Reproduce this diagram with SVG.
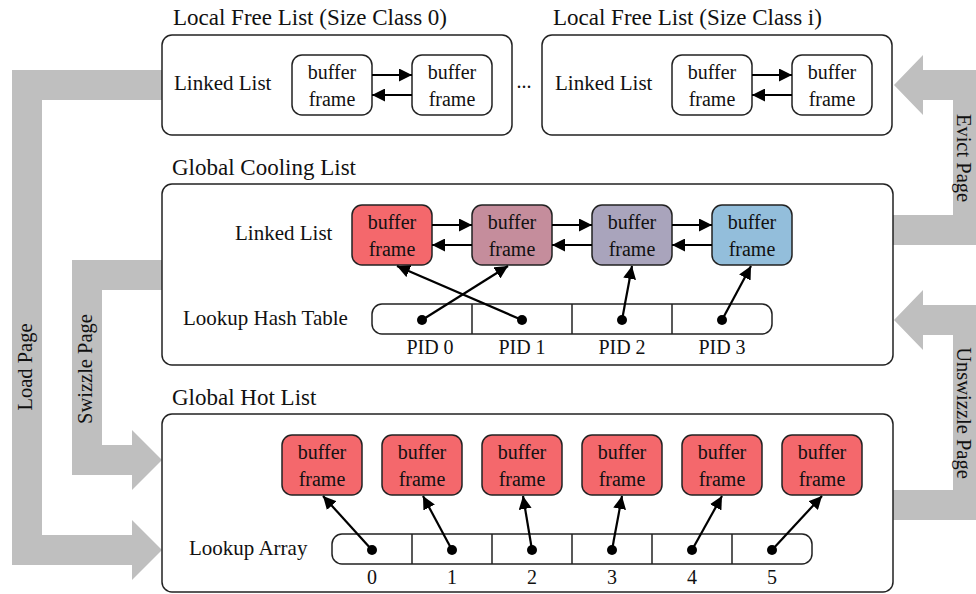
<svg xmlns="http://www.w3.org/2000/svg" width="976" height="594" viewBox="0 0 976 594">
<defs>
<marker id="ah" viewBox="0 0 12 12" refX="12" refY="6" markerWidth="13" markerHeight="13" markerUnits="userSpaceOnUse" orient="auto">
<path d="M0,0 L12,6 L0,12 z" fill="#000"/>
</marker>
<style>
text{font-family:"Liberation Serif","Times New Roman",serif;fill:#111}
.title{font-size:23px}
.lbl{font-size:21px}
.nt{font-size:20px;text-anchor:middle}
.sm{font-size:20px;text-anchor:middle}
.side{font-size:20.5px;text-anchor:middle}
.box{fill:#fff;stroke:#222;stroke-width:1.5}
.node{stroke:#222;stroke-width:1.5}
.white{fill:#fff}
.red{fill:#F4686C}
.mauve{fill:#C58D9C}
.lav{fill:#A9A4BC}
.blue{fill:#93BEDB}
.flow{fill:#BFBFBF;stroke:none}
.con{stroke:#000;stroke-width:2.2;fill:none;marker-end:url(#ah)}
.tbl{fill:#fff;stroke:#222;stroke-width:1.5}
.div{stroke:#222;stroke-width:1.5}
.dot{fill:#000}
</style>
</defs>

<!-- big gray flow arrows -->
<g id="flows">
<path class="flow" d="M162,70 L12,70 L12,565 L132,565 L132,580 L162,550 L132,520 L132,535 L42,535 L42,100 L162,100 Z"/>
<path class="flow" d="M162,260 L72,260 L72,475 L132,475 L132,490 L162,460 L132,430 L132,445 L102,445 L102,290 L162,290 Z"/>
<path class="flow" d="M893,245 L983,245 L983,70 L923,70 L923,55 L894,85 L923,115 L923,100 L953,100 L953,215 L893,215 Z"/>
<path class="flow" d="M893,520 L983,520 L983,305 L923,305 L923,290 L894,320 L923,350 L923,335 L953,335 L953,490 L893,490 Z"/>
<text class="side" transform="translate(32,367) rotate(-90)">Load Page</text>
<text class="side" transform="translate(92,369) rotate(-90)">Swizzle Page</text>
<text class="side" transform="translate(957,158) rotate(90)">Evict Page</text>
<text class="side" transform="translate(957,413) rotate(90)">Unswizzle Page</text>
</g>

<!-- Local Free List 0 -->
<g id="local0">
<text class="title" x="173" y="25">Local Free List (Size Class 0)</text>
<rect class="box" x="162" y="35" width="350" height="100" rx="10"/>
<text class="lbl" x="174" y="90">Linked List</text>
</g>
<g id="l0n1"><rect class="node white" x="292" y="55" width="80" height="60" rx="10"/><text class="nt" x="332" y="79">buffer</text><text class="nt" x="332" y="106">frame</text></g>
<g id="l0n2"><rect class="node white" x="412" y="55" width="80" height="60" rx="10"/><text class="nt" x="452" y="79">buffer</text><text class="nt" x="452" y="106">frame</text></g>

<text class="sm" x="524" y="88">...</text>

<!-- Local Free List i -->
<g id="locali">
<text class="title" x="553" y="25">Local Free List (Size Class i)</text>
<rect class="box" x="542" y="35" width="350" height="100" rx="10"/>
<text class="lbl" x="555" y="90">Linked List</text>
</g>
<g id="lin1"><rect class="node white" x="672" y="55" width="80" height="60" rx="10"/><text class="nt" x="712" y="79">buffer</text><text class="nt" x="712" y="106">frame</text></g>
<g id="lin2"><rect class="node white" x="792" y="55" width="80" height="60" rx="10"/><text class="nt" x="832" y="79">buffer</text><text class="nt" x="832" y="106">frame</text></g>

<!-- Global Cooling List -->
<g id="cooling">
<text class="title" x="172" y="175">Global Cooling List</text>
<rect class="box" x="162" y="184" width="731" height="181" rx="10"/>
<text class="lbl" x="235" y="240">Linked List</text>
<text class="lbl" x="183" y="325">Lookup Hash Table</text>
</g>
<g id="c1"><rect class="node red" x="352" y="205" width="80" height="60" rx="10"/><text class="nt" x="392" y="229">buffer</text><text class="nt" x="392" y="256">frame</text></g>
<g id="c2"><rect class="node mauve" x="472" y="205" width="80" height="60" rx="10"/><text class="nt" x="512" y="229">buffer</text><text class="nt" x="512" y="256">frame</text></g>
<g id="c3"><rect class="node lav" x="592" y="205" width="80" height="60" rx="10"/><text class="nt" x="632" y="229">buffer</text><text class="nt" x="632" y="256">frame</text></g>
<g id="c4"><rect class="node blue" x="712" y="205" width="80" height="60" rx="10"/><text class="nt" x="752" y="229">buffer</text><text class="nt" x="752" y="256">frame</text></g>

<g id="hashtable">
<rect class="tbl" x="372" y="304" width="400" height="30" rx="10"/>
<line class="div" x1="472" y1="304" x2="472" y2="334"/>
<line class="div" x1="572" y1="304" x2="572" y2="334"/>
<line class="div" x1="672" y1="304" x2="672" y2="334"/>
<text class="sm" x="430" y="354">PID 0</text>
<text class="sm" x="522" y="354">PID 1</text>
<text class="sm" x="622" y="354">PID 2</text>
<text class="sm" x="722" y="354">PID 3</text>
</g>

<!-- Global Hot List -->
<g id="hot">
<text class="title" x="172" y="405">Global Hot List</text>
<rect class="box" x="162" y="414" width="731" height="178" rx="10"/>
<text class="lbl" x="189" y="555">Lookup Array</text>
</g>
<g id="h0"><rect class="node red" x="282" y="435" width="80" height="60" rx="10"/><text class="nt" x="322" y="459">buffer</text><text class="nt" x="322" y="486">frame</text></g>
<g id="h1"><rect class="node red" x="382" y="435" width="80" height="60" rx="10"/><text class="nt" x="422" y="459">buffer</text><text class="nt" x="422" y="486">frame</text></g>
<g id="h2"><rect class="node red" x="482" y="435" width="80" height="60" rx="10"/><text class="nt" x="522" y="459">buffer</text><text class="nt" x="522" y="486">frame</text></g>
<g id="h3"><rect class="node red" x="582" y="435" width="80" height="60" rx="10"/><text class="nt" x="622" y="459">buffer</text><text class="nt" x="622" y="486">frame</text></g>
<g id="h4"><rect class="node red" x="682" y="435" width="80" height="60" rx="10"/><text class="nt" x="722" y="459">buffer</text><text class="nt" x="722" y="486">frame</text></g>
<g id="h5"><rect class="node red" x="782" y="435" width="80" height="60" rx="10"/><text class="nt" x="822" y="459">buffer</text><text class="nt" x="822" y="486">frame</text></g>

<g id="lookuparray">
<rect class="tbl" x="332" y="534" width="480" height="30" rx="10"/>
<line class="div" x1="412" y1="534" x2="412" y2="564"/>
<line class="div" x1="492" y1="534" x2="492" y2="564"/>
<line class="div" x1="572" y1="534" x2="572" y2="564"/>
<line class="div" x1="652" y1="534" x2="652" y2="564"/>
<line class="div" x1="732" y1="534" x2="732" y2="564"/>
<text class="sm" x="372" y="584">0</text>
<text class="sm" x="452" y="584">1</text>
<text class="sm" x="532" y="584">2</text>
<text class="sm" x="612" y="584">3</text>
<text class="sm" x="692" y="584">4</text>
<text class="sm" x="772" y="584">5</text>
</g>

<!-- connectors -->
<g id="connectors">
<line class="con" x1="372" y1="75" x2="412" y2="75"/>
<line class="con" x1="412" y1="95" x2="372" y2="95"/>
<line class="con" x1="752" y1="75" x2="792" y2="75"/>
<line class="con" x1="792" y1="95" x2="752" y2="95"/>

<line class="con" x1="432" y1="225" x2="472" y2="225"/>
<line class="con" x1="472" y1="245" x2="432" y2="245"/>
<line class="con" x1="552" y1="225" x2="592" y2="225"/>
<line class="con" x1="592" y1="245" x2="552" y2="245"/>
<line class="con" x1="672" y1="225" x2="712" y2="225"/>
<line class="con" x1="712" y1="245" x2="672" y2="245"/>

<line class="con" x1="422" y1="320" x2="508" y2="266"/>
<line class="con" x1="522" y1="320" x2="397" y2="266"/>
<line class="con" x1="622" y1="320" x2="632" y2="266"/>
<line class="con" x1="722" y1="320" x2="751" y2="266"/>
<circle class="dot" cx="422" cy="320" r="5"/>
<circle class="dot" cx="522" cy="320" r="5"/>
<circle class="dot" cx="622" cy="320" r="5"/>
<circle class="dot" cx="722" cy="320" r="5"/>

<line class="con" x1="372" y1="550" x2="323" y2="496"/>
<line class="con" x1="452" y1="550" x2="423" y2="496"/>
<line class="con" x1="532" y1="550" x2="523" y2="496"/>
<line class="con" x1="612" y1="550" x2="622" y2="496"/>
<line class="con" x1="692" y1="550" x2="722" y2="496"/>
<line class="con" x1="772" y1="550" x2="822" y2="496"/>
<circle class="dot" cx="372" cy="550" r="5"/>
<circle class="dot" cx="452" cy="550" r="5"/>
<circle class="dot" cx="532" cy="550" r="5"/>
<circle class="dot" cx="612" cy="550" r="5"/>
<circle class="dot" cx="692" cy="550" r="5"/>
<circle class="dot" cx="772" cy="550" r="5"/>
</g>
</svg>
